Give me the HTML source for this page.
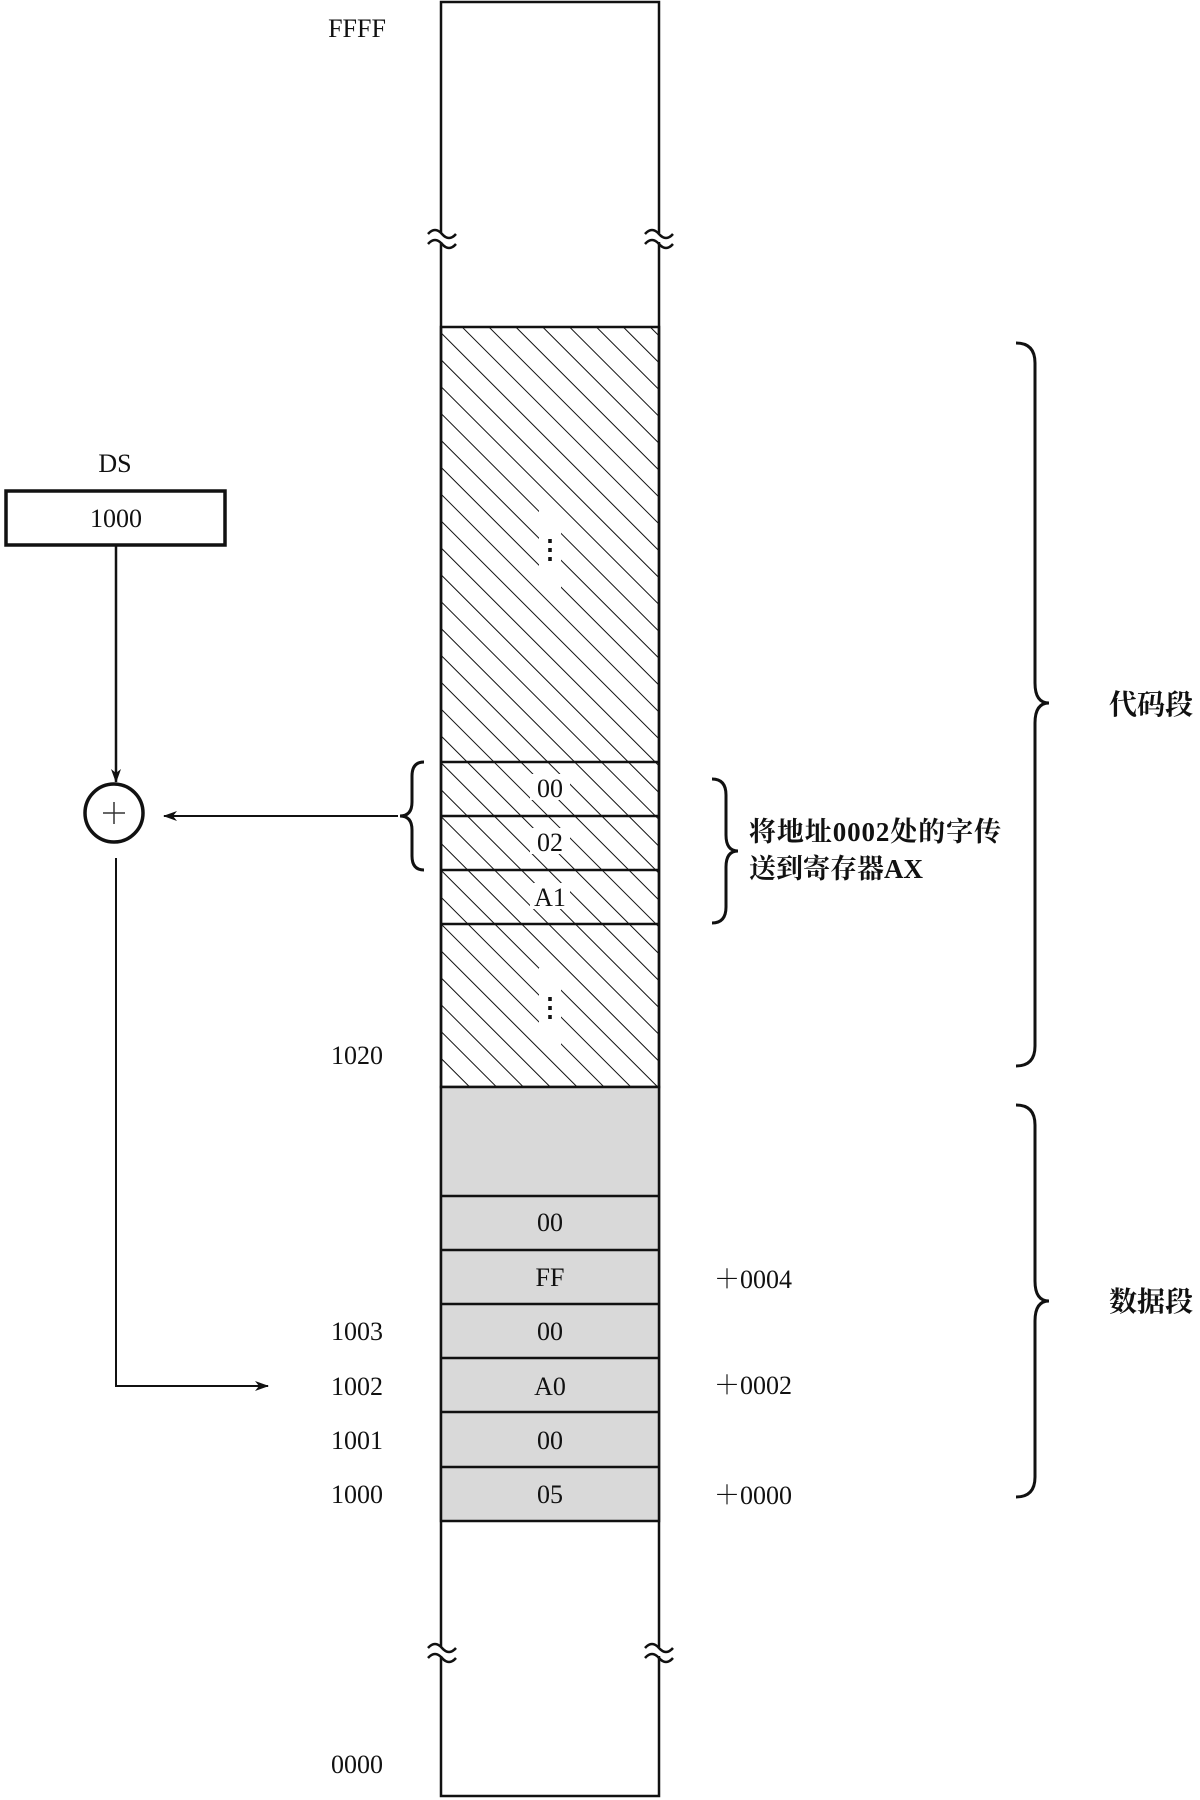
<!DOCTYPE html>
<html><head><meta charset="utf-8"><style>
html,body{margin:0;padding:0;background:#fff;}
svg{display:block;}
text{font-family:"Liberation Serif","Noto Serif CJK SC",serif;fill:#111;}
.cjk{font-family:"Liberation Serif","Noto Serif CJK SC",serif;}
</style></head><body>
<svg width="1200" height="1800" viewBox="0 0 1200 1800" xmlns="http://www.w3.org/2000/svg">
<defs>
<pattern id="h" patternUnits="userSpaceOnUse" width="19" height="19" patternTransform="rotate(-45)">
<line x1="0" y1="0" x2="0" y2="19" stroke="#111" stroke-width="2"/>
</pattern>
<marker id="ar" markerWidth="14" markerHeight="10" refX="13" refY="5" orient="auto" markerUnits="userSpaceOnUse">
<path d="M0,0 L14,5 L0,10 L4,5 Z" fill="#111"/>
</marker>
</defs>

<rect x="441" y="2" width="218" height="1794" fill="#fff" stroke="#111" stroke-width="2.5"/>
<rect x="441" y="327" width="218" height="760" fill="url(#h)" stroke="#111" stroke-width="2.5"/>
<rect x="441" y="1087" width="218" height="434" fill="#d9d9d9" stroke="#111" stroke-width="2.5"/>
<g stroke="#111" stroke-width="2.5">
<line x1="441" y1="762" x2="659" y2="762"/>
<line x1="441" y1="816" x2="659" y2="816"/>
<line x1="441" y1="870" x2="659" y2="870"/>
<line x1="441" y1="924" x2="659" y2="924"/>
<line x1="441" y1="1196" x2="659" y2="1196"/>
<line x1="441" y1="1250" x2="659" y2="1250"/>
<line x1="441" y1="1304" x2="659" y2="1304"/>
<line x1="441" y1="1358" x2="659" y2="1358"/>
<line x1="441" y1="1412" x2="659" y2="1412"/>
<line x1="441" y1="1467" x2="659" y2="1467"/>
</g>

<g fill="none" stroke="#111" stroke-width="2.5">
<rect x="436" y="233" width="10" height="9" fill="#fff" stroke="none"/>
<rect x="654" y="233" width="10" height="9" fill="#fff" stroke="none"/>
<rect x="436" y="1647" width="10" height="9" fill="#fff" stroke="none"/>
<rect x="654" y="1647" width="10" height="9" fill="#fff" stroke="none"/>
<path d="M428,234 q7,-8 14,0 t14,0"/><path d="M428,244 q7,-8 14,0 t14,0"/>
<path d="M645,234 q7,-8 14,0 t14,0"/><path d="M645,244 q7,-8 14,0 t14,0"/>
<path d="M428,1648 q7,-8 14,0 t14,0"/><path d="M428,1658 q7,-8 14,0 t14,0"/>
<path d="M645,1648 q7,-8 14,0 t14,0"/><path d="M645,1658 q7,-8 14,0 t14,0"/>
</g>

<rect x="539" y="510" width="22" height="78" fill="#fff"/>
<rect x="539" y="968" width="22" height="78" fill="#fff"/>
<text x="550" y="558" font-size="26" font-weight="bold" text-anchor="middle">⋮</text>
<text x="550" y="1016" font-size="26" font-weight="bold" text-anchor="middle">⋮</text>

<rect x="6" y="491" width="219" height="54" fill="#fff" stroke="#111" stroke-width="3.5"/>
<line x1="116" y1="545" x2="116" y2="782" stroke="#111" stroke-width="2.5" marker-end="url(#ar)"/>
<circle cx="114" cy="813" r="29" fill="#fff" stroke="#111" stroke-width="3.5"/>
<line x1="103" y1="813" x2="125" y2="813" stroke="#333" stroke-width="1.5"/>
<line x1="114" y1="802" x2="114" y2="824" stroke="#333" stroke-width="1.5"/>
<line x1="398" y1="816" x2="164" y2="816" stroke="#111" stroke-width="2" marker-end="url(#ar)"/>
<polyline points="116,858 116,1386 268,1386" fill="none" stroke="#111" stroke-width="2" marker-end="url(#ar)"/>

<rect x="530" y="774" width="40" height="26" fill="#fff"/>
<rect x="530" y="828" width="40" height="26" fill="#fff"/>
<rect x="530" y="883" width="40" height="26" fill="#fff"/>
<g font-size="26" text-anchor="middle">
<text x="550" y="797">00</text>
<text x="550" y="851">02</text>
<text x="550" y="906">A1</text>
<text x="550" y="1231">00</text>
<text x="550" y="1286">FF</text>
<text x="550" y="1340">00</text>
<text x="550" y="1395">A0</text>
<text x="550" y="1449">00</text>
<text x="550" y="1503">05</text>
<text x="357" y="37">FFFF</text>
<text x="357" y="1064">1020</text>
<text x="357" y="1340">1003</text>
<text x="357" y="1395">1002</text>
<text x="357" y="1449">1001</text>
<text x="357" y="1503">1000</text>
<text x="357" y="1773">0000</text>
<text x="115" y="472">DS</text>
<text x="116" y="527">1000</text>
</g>
<g font-size="26">
<text x="714" y="1288">＋0004</text>
<text x="714" y="1394">＋0002</text>
<text x="714" y="1504">＋0000</text>
</g>

<g fill="none" stroke="#111" stroke-width="3">
<path d="M424,762 q-12,0 -12,14 v26 q0,14 -12,14 q12,0 12,14 v26 q0,14 12,14"/>
<path d="M712,779 q14,0 14,16 v40 q0,16 12,16 q-12,0 -12,16 v40 q0,16 -14,16"/>
<path d="M1016,343 q19,0 19,20 v320 q0,20 14,20 q-14,0 -14,20 v323 q0,20 -19,20"/>
<path d="M1016,1105 q19,0 19,20 v156 q0,20 14,20 q-14,0 -14,20 v156 q0,20 -19,20"/>
</g>
<text x="749" y="841" font-size="27" class="cjk" font-weight="bold" textLength="252">将地址0002处的字传</text>
<text x="749" y="878" font-size="27" class="cjk" font-weight="bold">送到寄存器AX</text>
<text x="1109" y="714" font-size="28" class="cjk" font-weight="bold">代码段</text>
<text x="1109" y="1311" font-size="28" class="cjk" font-weight="bold">数据段</text>
</svg>
</body></html>
